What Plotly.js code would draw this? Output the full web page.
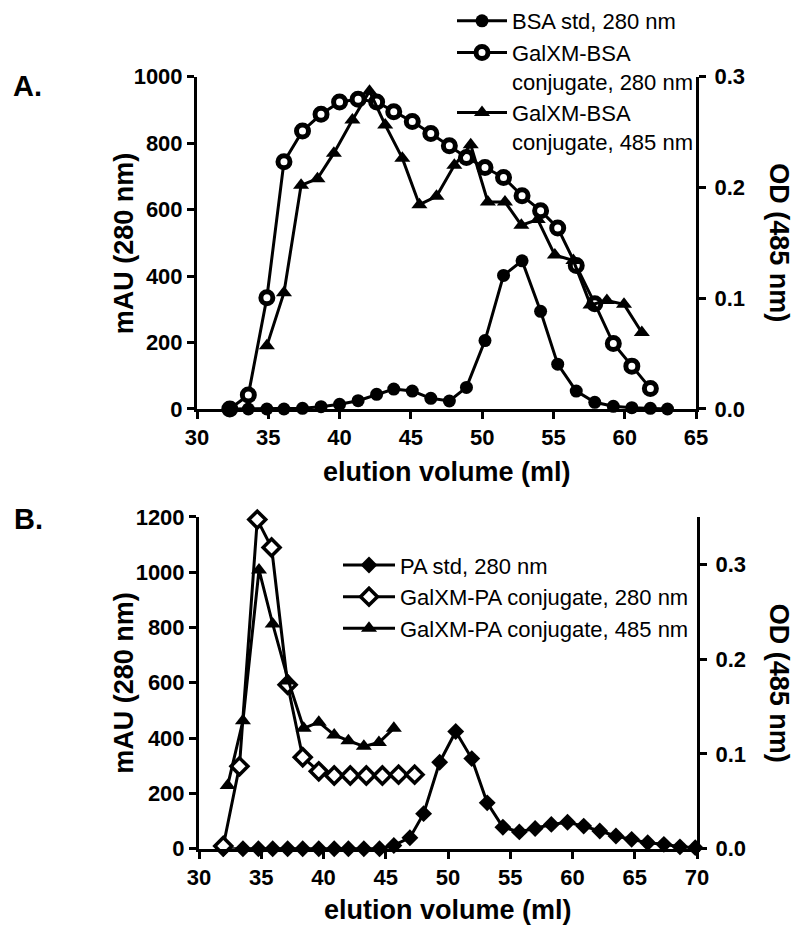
<!DOCTYPE html>
<html>
<head>
<meta charset="utf-8">
<script src="https://cdn.plot.ly/plotly-3.0.1.min.js"></script>
<style>html,body{margin:0;padding:0;background:#fff;}#chart{width:800px;height:929px;}</style>
</head>
<body>
<div id="chart"></div>
<script>
// ---------- Panel A data ----------
const bsaX = [32.3, 33.6, 34.9, 36.1, 37.4, 38.7, 40.0, 41.3, 42.6, 43.8, 45.1, 46.4, 47.7, 48.9, 50.2, 51.5, 52.8, 54.1, 55.3, 56.6, 57.9, 59.2, 60.5, 61.8, 63.0];
const bsaStd280 = [0, 0, 0, 0, 2, 7, 14, 25, 44, 60, 54, 32, 24, 65, 206, 402, 446, 294, 135, 54, 20, 8, 4, 2, 0];
const conjBsaX280 = [32.3, 33.6, 34.9, 36.1, 37.4, 38.7, 40.0, 41.3, 42.6, 43.8, 45.1, 46.4, 47.7, 48.9, 50.2, 51.5, 52.8, 54.1, 55.3, 56.6, 57.9, 59.2, 60.5, 61.8];
const conjBsa280 = [0, 42, 335, 744, 837, 887, 924, 932, 924, 895, 865, 829, 792, 757, 727, 697, 642, 597, 545, 432, 317, 197, 129, 62];
const conjBsaX485 = [34.9, 36.1, 37.3, 38.45, 39.6, 40.9, 42.1, 43.2, 44.4, 45.6, 46.8, 48.05, 49.2, 50.4, 51.6, 52.75, 53.9, 55.1, 56.4, 57.6, 58.75, 59.95, 61.2];
const conjBsa485 = [0.057, 0.105, 0.202, 0.208, 0.231, 0.261, 0.287, 0.2565, 0.2265, 0.1845, 0.192, 0.22, 0.2385, 0.187, 0.187, 0.166, 0.171, 0.139, 0.134, 0.094, 0.098, 0.0945, 0.069];

// ---------- Panel B data ----------
const paX = [31.95, 33.53, 34.77, 35.92, 37.12, 38.33, 39.62, 40.86, 42.0, 43.24, 44.5, 45.65, 46.94, 48.04, 49.33, 50.62, 51.91, 53.15, 54.41, 55.73, 57.0, 58.3, 59.6, 60.9, 62.19, 63.49, 64.75, 66.04, 67.34, 68.63, 69.86];
const paStd280 = [0, 0, 0, 0, 0, 0, 0, 0, 0, 0, 0, 12, 40, 127, 313, 424, 326, 166, 78, 61, 73, 88, 96, 82, 64, 46, 34, 22, 16, 7, 4];
const conjPaX280 = [31.95, 33.25, 34.68, 35.83, 37.12, 38.33, 39.62, 40.86, 42.15, 43.44, 44.73, 46.03, 47.32];
const conjPa280 = [10, 298, 1190, 1089, 593, 331, 280, 265, 265, 265, 265, 268, 268];
const conjPaX485 = [32.3, 33.53, 34.82, 35.92, 37.18, 38.41, 39.62, 40.86, 42.0, 43.24, 44.45, 45.65];
const conjPa485 = [0.0666, 0.135, 0.294, 0.237, 0.177, 0.127, 0.1335, 0.120, 0.114, 0.108, 0.112, 0.127];

const xTicksA = [30, 35, 40, 45, 50, 55, 60, 65];
const xTicksB = [30, 35, 40, 45, 50, 55, 60, 65, 70];
const odTicks = [0, 0.1, 0.2, 0.3];

const FAM = 'Liberation Sans, Arial, Helvetica, sans-serif';
const W = 800, H = 929;
const px = v => v / W;
const py = v => 1 - v / H;

const lineStyle = {color: '#000', width: 3};
function tr(x, y, name, symbol, size, xa, ya, legend, rank, openWidth) {
  return {
    x: x, y: y, name: name, type: 'scatter', mode: 'lines+markers',
    xaxis: xa, yaxis: ya, legend: legend, legendrank: rank, cliponaxis: false,
    line: lineStyle,
    marker: openWidth ? {symbol: symbol, size: size, color: '#fff', line: {color: '#000', width: openWidth}}
                      : {symbol: symbol, size: size, color: '#000', line: {color: '#000', width: 0}}
  };
}

// draw order: open markers first, filled on top
const data = [
  tr(conjBsaX280, conjBsa280, 'GalXM-BSA<br>conjugate, 280 nm', 'circle', 12, 'x', 'y', 'legend', 2, 5),
  tr(bsaX, bsaStd280, 'BSA std, 280 nm', 'circle', 13, 'x', 'y', 'legend', 1, 0),
  tr(conjBsaX485, conjBsa485, 'GalXM-BSA<br>conjugate, 485 nm', 'triangle-up', 14, 'x', 'y2', 'legend', 3, 0),
  tr(paX, paStd280, 'PA std, 280 nm', 'diamond', 13, 'x2', 'y3', 'legend2', 1, 0),
  tr(conjPaX280, conjPa280, 'GalXM-PA conjugate, 280 nm', 'diamond', 13, 'x2', 'y3', 'legend2', 2, 3.5),
  tr(conjPaX485, conjPa485, 'GalXM-PA conjugate, 485 nm', 'triangle-up', 14, 'x2', 'y4', 'legend2', 3, 0)
];

const tickFont = {family: FAM, size: 22, color: '#000', weight: 'bold'};
const axBase = {
  showline: true, linecolor: '#000', linewidth: 3, ticks: 'outside', ticklen: 7, tickwidth: 3,
  tickcolor: '#000', showgrid: false, zeroline: false, tickfont: tickFont, fixedrange: true
};

const titleFont = {family: FAM, size: 27, weight: 'bold', color: '#000'};
function note(text, x, y, angle, extra) {
  return Object.assign({text: text, x: px(x), y: py(y), xref: 'paper', yref: 'paper', xanchor: 'center', yanchor: 'middle',
    textangle: angle, showarrow: false, font: titleFont}, extra || {});
}

const layout = {
  width: W, height: H,
  margin: {l: 0, r: 0, t: 0, b: 0},
  paper_bgcolor: '#fff', plot_bgcolor: 'rgba(0,0,0,0)',
  font: {family: FAM, color: '#000'},
  showlegend: true,
  xaxis: Object.assign({}, axBase, {domain: [px(197), px(696)], range: [30, 65], tickvals: xTicksA, anchor: 'y'}),
  yaxis: Object.assign({}, axBase, {domain: [py(407.3), py(74)], range: [0, 1000], dtick: 200, tick0: 0, anchor: 'x'}),
  yaxis2: Object.assign({}, axBase, {overlaying: 'y', side: 'right', anchor: 'x', range: [0, 0.3], tickvals: odTicks, tickformat: '.1f', ticklabelstandoff: 4}),
  xaxis2: Object.assign({}, axBase, {domain: [px(199), px(697)], range: [30, 70], tickvals: xTicksB, anchor: 'y3'}),
  yaxis3: Object.assign({}, axBase, {domain: [py(848.5), py(515.5)], range: [0, 1200], dtick: 200, tick0: 0, anchor: 'x2'}),
  yaxis4: Object.assign({}, axBase, {overlaying: 'y3', side: 'right', anchor: 'x2', range: [0, 0.35], tickvals: odTicks, tickformat: '.1f', ticklabelstandoff: 4}),
  legend: {x: px(452), y: py(-3), xanchor: 'left', yanchor: 'top', bgcolor: 'rgba(0,0,0,0)', itemwidth: 50,
           font: {family: FAM, size: 22, color: '#000'}, valign: 'top', tracegroupgap: 0, itemclick: false, traceorder: 'normal'},
  legend2: {x: px(338), y: py(543), xanchor: 'left', yanchor: 'top', bgcolor: 'rgba(0,0,0,0)', itemwidth: 52,
            font: {family: FAM, size: 22, color: '#000'}, valign: 'top', tracegroupgap: 0, itemclick: false, traceorder: 'normal'},
  annotations: [
    note('A.', 11, 83, 0, {xanchor: 'left', font: {family: FAM, size: 29, weight: 'bold', color: '#000'}}),
    note('B.', 12, 518, 0, {xanchor: 'left', font: {family: FAM, size: 29, weight: 'bold', color: '#000'}}),
    note('mAU (280 nm)', 124, 241, -90),
    note('mAU (280 nm)', 124, 682, -90),
    note('OD (485 nm)', 779, 240, 90),
    note('OD (485 nm)', 779, 682, 90),
    note('elution volume (ml)', 446.5, 471, 0),
    note('elution volume (ml)', 448, 910, 0)
  ]
};

Plotly.newPlot('chart', data, layout, {staticPlot: true, displayModeBar: false});
</script>
</body>
</html>
